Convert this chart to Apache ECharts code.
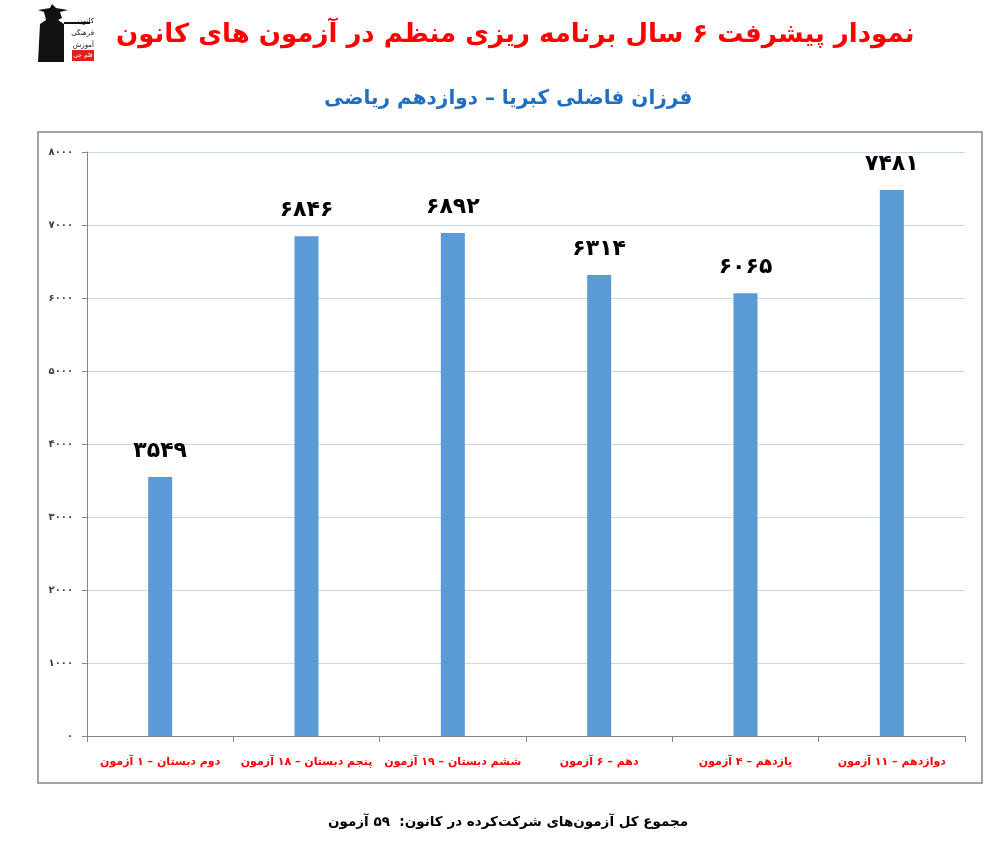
<!DOCTYPE html>
<html><head><meta charset="utf-8">
<script src="https://cdn.jsdelivr.net/npm/echarts@6/dist/echarts.min.js"></script>
<style>html,body{margin:0;padding:0;background:#fff}#c{width:999px;height:847px}</style>
</head><body><div id="c"></div>
<script>
const titleText = 'نمودار پیشرفت ۶ سال برنامه ریزی منظم در آزمون های کانون';
const subtitleText = 'فرزان فاضلی کبریا – دوازدهم ریاضی';
const footerText = 'مجموع کل آزمون‌های شرکت‌کرده در کانون:  ۵۹ آزمون';
const categories = ['دوم دبستان – ۱ آزمون','پنجم دبستان – ۱۸ آزمون','ششم دبستان – ۱۹ آزمون','دهم – ۶ آزمون','یازدهم – ۴ آزمون','دوازدهم – ۱۱ آزمون'];
const values = [3549, 6846, 6892, 6314, 6065, 7481];
const yTicks = [0,1000,2000,3000,4000,5000,6000,7000,8000];

const fa = n => String(n).replace(/[0-9]/g, d => '۰۱۲۳۴۵۶۷۸۹'[d]);
const F = 'DejaVu Sans';
const chart = echarts.init(document.getElementById('c'), null, {renderer:'canvas'});
chart.setOption({
  animation:false,
  backgroundColor:'#fff',
  title:[
    {text:titleText,left:111,top:17,textStyle:{fontFamily:F,fontWeight:'bold',fontSize:26,color:'#ff0000'}},
    {text:subtitleText,left:319,top:84,textStyle:{fontFamily:F,fontWeight:'bold',fontSize:20,color:'#1f6fc1'}},
    {text:footerText,left:323,top:810,textStyle:{fontFamily:F,fontWeight:'bold',fontSize:13.5,color:'#000'}}
  ],
  grid:{left:87,right:34,top:152,bottom:111,containLabel:false},
  xAxis:{type:'category',data:categories,
    axisLine:{lineStyle:{color:'#868686',width:1}},
    axisTick:{show:true,length:6,lineStyle:{color:'#868686'}},
    axisLabel:{interval:0,margin:21,fontFamily:F,fontWeight:'bold',fontSize:11,color:'#ff0000'}},
  yAxis:{type:'value',min:yTicks[0],max:yTicks[yTicks.length-1],interval:1000,
    axisLine:{show:true,lineStyle:{color:'#868686'}},
    axisTick:{show:true,length:5,lineStyle:{color:'#868686'}},
    splitLine:{lineStyle:{color:'#c5d9f1',width:1}},
    axisLabel:{margin:14,fontFamily:F,fontWeight:'bold',fontSize:10,color:'#404040',formatter:v=>fa(v)}},
  series:[{type:'bar',data:values,barWidth:24,itemStyle:{color:'#5b9bd5'},
    label:{show:true,position:'top',distance:15,fontFamily:F,fontWeight:'bold',fontSize:22,color:'#000',formatter:p=>fa(p.value)}}],
  graphic:[
    {type:'rect',shape:{x:38,y:132,width:944,height:651},style:{fill:'none',stroke:'#868686',lineWidth:1.5},silent:true},
    {type:'group',left:38,top:4,children:[
      {type:'polygon',shape:{points:[[6,12],[18,10],[20,6],[24,10],[36,12],[28,14],[30,20],[26,22],[32,26],[32,64],[6,64],[8,26],[14,22],[12,14]]},style:{fill:'#111'}},
      {type:'rect',shape:{x:32,y:24,width:26,height:2},style:{fill:'#111'}},
      {type:'text',style:{x:62,y:20,text:'کانون',fontSize:7,fontFamily:F,fill:'#111',align:'right'}},
      {type:'text',style:{x:62,y:32,text:'فرهنگی',fontSize:7,fontFamily:F,fill:'#111',align:'right'}},
      {type:'text',style:{x:62,y:44,text:'آموزش',fontSize:7,fontFamily:F,fill:'#111',align:'right'}},
      {type:'rect',shape:{x:40,y:52,width:22,height:11},style:{fill:'#e32020'}},
      {type:'text',style:{x:51,y:54,text:'قلم چی',fontSize:6,fontFamily:F,fill:'#fff',align:'center'}}
    ]}
  ]
});
</script></body></html>
